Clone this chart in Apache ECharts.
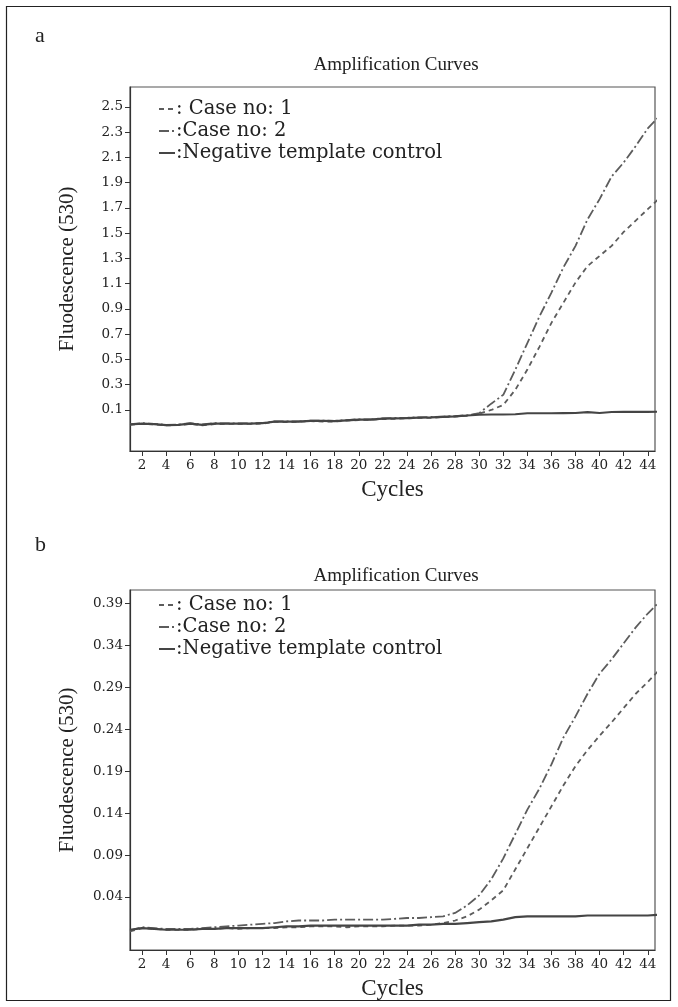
<!DOCTYPE html>
<html>
<head>
<meta charset="utf-8">
<script src="https://cdn.jsdelivr.net/npm/echarts@6/dist/echarts.min.js"></script>
<style>
html,body{margin:0;padding:0;background:#fff;}
#chart{width:678px;height:1007px;}
</style>
</head>
<body>
<div id="chart"></div>
<script>
// ---- data ----
const cycles = [1,2,3,4,5,6,7,8,9,10,11,12,13,14,15,16,17,18,19,20,21,22,23,24,25,26,27,28,29,30,31,32,33,34,35,36,37,38,39,40,41,42,43,44,45];
const seriesNames = ['Case no: 1', 'Case no: 2', 'Negative template control'];
const legendLabels = [': Case no: 1', ':Case no: 2', ':Negative template control'];

// Panel a
const case1A = [-0.018,-0.01,-0.015,-0.022,-0.02,-0.01,-0.022,-0.012,-0.01,-0.01,-0.01,-0.008,0.006,0.004,0.006,0.012,0.008,0.008,0.016,0.02,0.022,0.028,0.03,0.034,0.038,0.038,0.044,0.048,0.054,0.07,0.1,0.14,0.26,0.42,0.6,0.79,0.95,1.11,1.24,1.32,1.40,1.51,1.60,1.69,1.78];
const case2A = [-0.012,-0.005,-0.01,-0.018,-0.016,-0.005,-0.015,-0.005,-0.006,-0.006,-0.006,-0.003,0.01,0.01,0.01,0.016,0.016,0.014,0.02,0.026,0.026,0.034,0.036,0.038,0.042,0.044,0.048,0.052,0.058,0.075,0.15,0.22,0.42,0.63,0.84,1.03,1.23,1.40,1.61,1.77,1.95,2.06,2.19,2.33,2.43];
const negA = [-0.015,-0.008,-0.012,-0.02,-0.018,-0.008,-0.018,-0.008,-0.008,-0.008,-0.008,-0.005,0.008,0.008,0.008,0.014,0.014,0.012,0.018,0.024,0.024,0.032,0.034,0.036,0.04,0.042,0.046,0.05,0.056,0.062,0.064,0.064,0.066,0.074,0.074,0.074,0.075,0.076,0.083,0.076,0.084,0.085,0.085,0.085,0.086];

// Panel b
const case1B = [-0.001,0.003,0.002,0.001,0.001,0.001,0.002,0.002,0.003,0.002,0.003,0.003,0.003,0.004,0.004,0.005,0.005,0.005,0.004,0.005,0.005,0.005,0.006,0.006,0.006,0.007,0.009,0.012,0.017,0.025,0.036,0.048,0.073,0.098,0.123,0.148,0.173,0.196,0.215,0.232,0.248,0.265,0.282,0.296,0.311];
const case2B = [0.0,0.004,0.003,0.002,0.002,0.002,0.003,0.004,0.005,0.006,0.007,0.008,0.009,0.011,0.012,0.012,0.012,0.013,0.013,0.013,0.013,0.013,0.014,0.015,0.015,0.016,0.017,0.021,0.030,0.042,0.061,0.086,0.115,0.144,0.169,0.198,0.230,0.255,0.282,0.306,0.323,0.342,0.361,0.3775,0.392];
const negB = [0.001,0.003,0.002,0.001,0.001,0.001,0.002,0.002,0.003,0.003,0.003,0.003,0.004,0.005,0.005,0.006,0.006,0.006,0.006,0.006,0.006,0.006,0.006,0.006,0.007,0.007,0.008,0.008,0.009,0.010,0.011,0.013,0.016,0.017,0.017,0.017,0.017,0.017,0.018,0.018,0.018,0.018,0.018,0.018,0.019];

// tick labels
const xTicks = [2,4,6,8,10,12,14,16,18,20,22,24,26,28,30,32,34,36,38,40,42,44];
const yTicksA = [0.1,0.3,0.5,0.7,0.9,1.1,1.3,1.5,1.7,1.9,2.1,2.3,2.5];
const yTicksB = [0.04,0.09,0.14,0.19,0.24,0.29,0.34,0.39];

// ---- chart ----
const FONT = 'Liberation Serif';
const NUMFONT = 'DejaVu Serif';
const txt = '#222';
const chart = echarts.init(document.getElementById('chart'), null, {renderer: 'canvas'});

function pairs(ys){ return cycles.map((c,i)=>[c, ys[i]]); }

const lineStyles = [
  {color:'#5c5c5c', width:1.8, type:[5,4]},
  {color:'#5c5c5c', width:1.8, type:[10,3,2,3]},
  {color:'#454545', width:2.2, type:'solid'}
];

function xAxis(gi){
  return {
    gridIndex: gi, type:'value', min:1, max:44.6,
    name:'Cycles', nameLocation:'middle', nameGap:27,
    nameTextStyle:{fontFamily:FONT, fontSize:23, color:txt},
    axisLine:{show:true, onZero:false, lineStyle:{color:'#333', width:1.2}},
    axisTick:{show:true, length:5, customValues:xTicks, lineStyle:{color:'#333'}},
    axisLabel:{customValues:xTicks, fontFamily:NUMFONT, fontSize:13.5, color:txt, margin:7},
    splitLine:{show:false}
  };
}
function yAxis(gi, min, max, ticks, dec){
  return {
    gridIndex: gi, type:'value', min:min, max:max,
    name:'Fluodescence (530)', nameLocation:'middle', nameGap:52,
    nameTextStyle:{fontFamily:FONT, fontSize:21, color:txt},
    axisLine:{show:true, onZero:false, lineStyle:{color:'#333', width:1.2}},
    axisTick:{show:true, length:5, customValues:ticks, lineStyle:{color:'#333'}},
    axisLabel:{customValues:ticks, fontFamily:NUMFONT, fontSize:13.5, color:txt, margin:7,
      formatter: v => Number(v).toFixed(dec)},
    splitLine:{show:false}
  };
}
function mkSeries(gi, arrs){
  return arrs.map((a,i)=>({
    type:'line', name:seriesNames[i], xAxisIndex:gi, yAxisIndex:gi,
    data:pairs(a), symbol:'none', showSymbol:false, smooth:false,
    lineStyle:lineStyles[i], itemStyle:{color:lineStyles[i].color},
    z: i===2 ? 3 : 2, animation:false
  }));
}
function mkLegend(gi, top){
  return {
    show:true, orient:'vertical', left:153, top:top, itemWidth:16, itemHeight:12, itemGap:0,
    data: seriesNames, selectedMode:false,
    itemStyle:{opacity:0},
    formatter: n => legendLabels[seriesNames.indexOf(n)],
    textStyle:{fontFamily:NUMFONT, fontSize:19.5, lineHeight:22, color:txt, padding:[0,0,0,-4]}
  };
}

const gridA = {left:130, top:87, width:525, height:364};
const gridB = {left:130, top:590, width:525, height:360};

chart.setOption({
  animation:false,
  backgroundColor:'#fff',
  title:[
    {text:'a', left:30, top:20, textStyle:{fontFamily:FONT, fontSize:22, fontWeight:'normal', color:txt}},
    {text:'Amplification Curves', left:391, top:51, textAlign:'center', textStyle:{fontFamily:FONT, fontSize:19, fontWeight:'normal', color:txt}},
    {text:'b', left:30, top:529, textStyle:{fontFamily:FONT, fontSize:22, fontWeight:'normal', color:txt}},
    {text:'Amplification Curves', left:391, top:562, textAlign:'center', textStyle:{fontFamily:FONT, fontSize:19, fontWeight:'normal', color:txt}}
  ],
  legend:[mkLegend(0, 93), mkLegend(1, 589)],
  grid:[
    Object.assign({show:true, borderColor:'#555', borderWidth:1.2, backgroundColor:'transparent'}, gridA),
    Object.assign({show:true, borderColor:'#555', borderWidth:1.2, backgroundColor:'transparent'}, gridB)
  ],
  xAxis:[xAxis(0), xAxis(1)],
  yAxis:[yAxis(0, -0.225, 2.658, yTicksA, 1), yAxis(1, -0.0231, 0.4055, yTicksB, 2)],
  series:[].concat(mkSeries(0,[case1A, case2A, negA]), mkSeries(1,[case1B, case2B, negB])),
  graphic:[
    {type:'rect', shape:{x:6.5, y:6.5, width:664, height:994}, style:{fill:'none', stroke:'#222', lineWidth:1.2}, silent:true}
  ]
});
</script>
</body>
</html>
